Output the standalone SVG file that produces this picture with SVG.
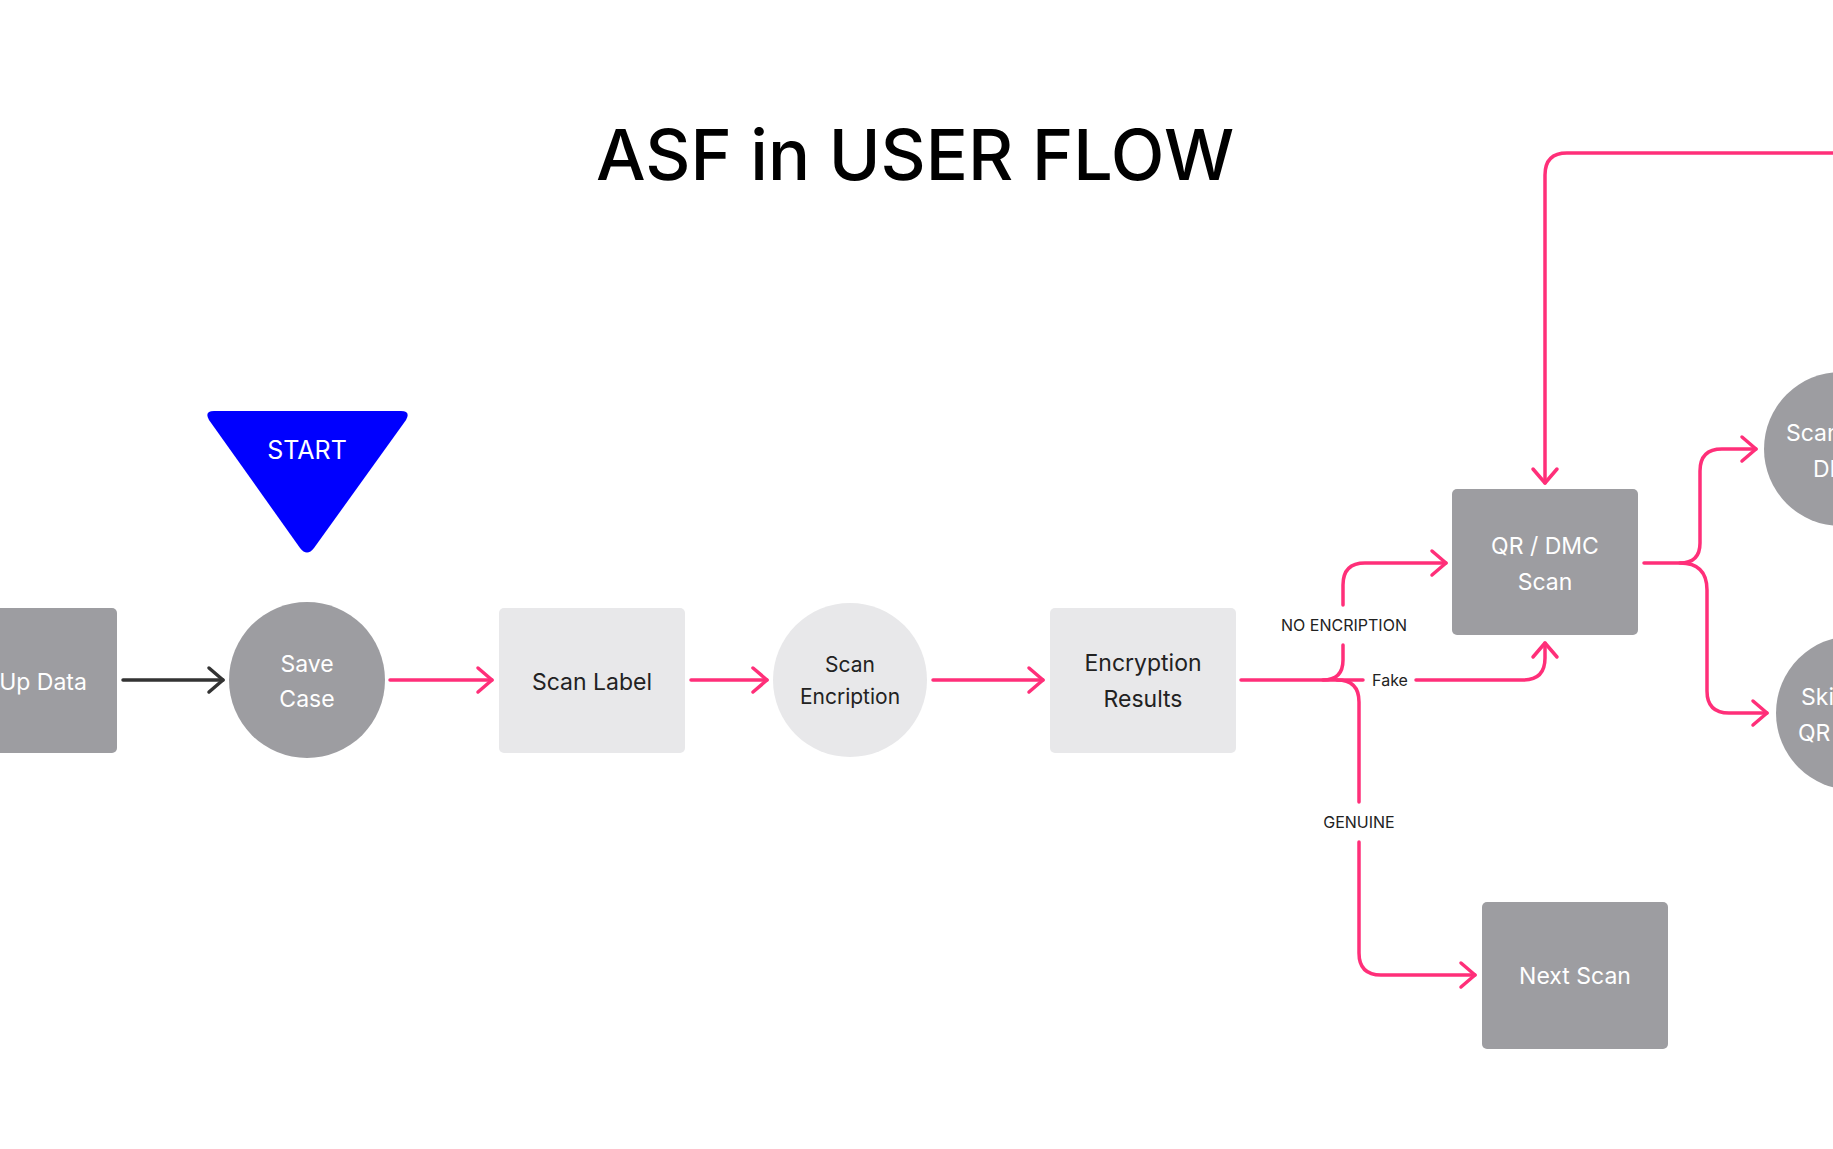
<svg xmlns="http://www.w3.org/2000/svg" width="1833" height="1149" viewBox="0 0 1833 1149">
<style>
text{font-family:Inter,"Noto Sans",sans-serif;text-anchor:middle}
.dk{fill:#9d9da1}.lt{fill:#e8e8ea}
.w{fill:#fff;font-size:23px}.b{fill:#222;font-size:23px}
.lbl{fill:#222;font-size:16px}
.p{fill:none;stroke:#ff2f79;stroke-width:3.5;stroke-linecap:round;stroke-linejoin:round}
</style>
<defs>
<marker id="ap" viewBox="0 0 20 30" refX="17" refY="15" markerWidth="20" markerHeight="30" markerUnits="userSpaceOnUse" orient="auto"><path d="M3 3L17 15L3 27" fill="none" stroke="#ff2f79" stroke-width="3.5" stroke-linecap="round" stroke-linejoin="round"/></marker>
<marker id="ab" viewBox="0 0 20 30" refX="17" refY="15" markerWidth="20" markerHeight="30" markerUnits="userSpaceOnUse" orient="auto"><path d="M3 3L17 15L3 27" fill="none" stroke="#333" stroke-width="3.5" stroke-linecap="round" stroke-linejoin="round"/></marker>
</defs>
<rect width="1833" height="1149" fill="#fff"/>
<text x="915" y="180" style="font-size:70px;fill:#000;font-weight:500">ASF in USER FLOW</text>
<g id="start"><path d="M214 411H401Q411 411 406 420L314 548Q307 557 300 548L209 420Q204 411 214 411Z" fill="#0000ff"/><text x="307" y="459" class="w" style="font-size:25px">START</text></g>
<g id="updata"><rect x="-20" y="608" width="137" height="145" rx="5" class="dk"/><text x="43" y="690" class="w">Up Data</text></g>
<g id="savecase"><circle cx="307" cy="680" r="78" class="dk"/><text x="307" y="672" class="w">Save</text><text x="307" y="707" class="w">Case</text></g>
<g id="scanlabel"><rect x="499" y="608" width="186" height="145" rx="5" class="lt"/><text x="592" y="690" class="b">Scan Label</text></g>
<g id="scanenc"><circle cx="850" cy="680" r="77" class="lt"/><text x="850" y="672" class="b" style="font-size:21px">Scan</text><text x="850" y="704" class="b" style="font-size:21px">Encription</text></g>
<g id="encres"><rect x="1050" y="608" width="186" height="145" rx="5" class="lt"/><text x="1143" y="671" class="b">Encryption</text><text x="1143" y="707" class="b">Results</text></g>
<g id="qr"><rect x="1452" y="489" width="186" height="146" rx="5" class="dk"/><text x="1545" y="554" class="w">QR / DMC</text><text x="1545" y="590" class="w">Scan</text></g>
<g id="nextscan"><rect x="1482" y="902" width="186" height="147" rx="5" class="dk"/><text x="1575" y="984" class="w">Next Scan</text></g>
<g id="scandmc"><circle cx="1841" cy="449" r="77" class="dk"/><text x="1786" y="441" class="w" style="text-anchor:start">Scan</text><text x="1813" y="477" class="w" style="text-anchor:start">DMC</text></g>
<g id="skipqr"><circle cx="1853" cy="713" r="77" class="dk"/><text x="1801" y="705" class="w" style="text-anchor:start">Skip</text><text x="1798" y="741" class="w" style="text-anchor:start">QR</text></g>
<g id="connectors">
<path d="M123 680H223" fill="none" stroke="#333" stroke-width="3.5" stroke-linecap="round" marker-end="url(#ab)"/>
<path class="p" d="M390 680H492" marker-end="url(#ap)"/>
<path class="p" d="M691 680H767" marker-end="url(#ap)"/>
<path class="p" d="M933 680H1043" marker-end="url(#ap)"/>
<path class="p" d="M1241 680H1323Q1343 680 1343 660V645"/>
<path class="p" d="M1343 605V585Q1343 563 1365 563H1446" marker-end="url(#ap)"/>
<path class="p" d="M1323 680H1363"/>
<path class="p" d="M1416 680H1523Q1545 680 1545 658V643" marker-end="url(#ap)"/>
<path class="p" d="M1337 680Q1359 680 1359 702V802"/>
<path class="p" d="M1359 842V953Q1359 975 1381 975H1475" marker-end="url(#ap)"/>
<path class="p" d="M1840 153H1567Q1545 153 1545 175V483" marker-end="url(#ap)"/>
<path class="p" d="M1644 563H1680Q1700 563 1700 543V471Q1700 449 1722 449H1756" marker-end="url(#ap)"/>
<path class="p" d="M1680 563Q1707 563 1707 590V691Q1707 713 1729 713H1767" marker-end="url(#ap)"/>
</g>
<text x="1344" y="631" class="lbl">NO ENCRIPTION</text>
<text x="1390" y="686" class="lbl">Fake</text>
<text x="1359" y="828" class="lbl">GENUINE</text>
</svg>
